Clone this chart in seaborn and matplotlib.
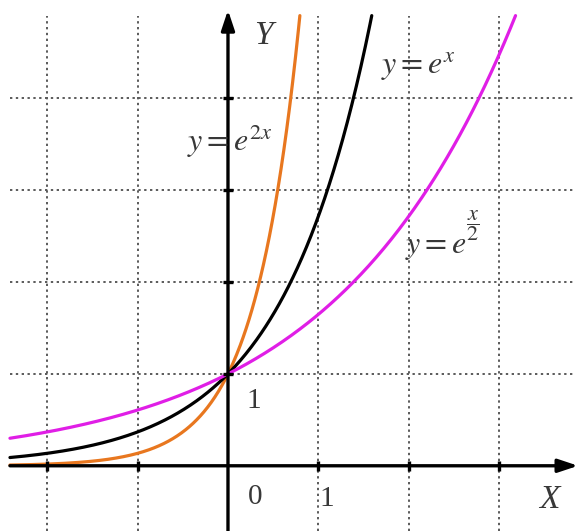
import numpy as np
import pandas as pd
import matplotlib
matplotlib.use("Agg")
import matplotlib.pyplot as plt
import seaborn as sns

# Exponential curves y = e^(k x)
rates = [2.0, 1.0, 0.5]
colors = ["#e8771f", "#000000", "#e01ee6"]
labels = [r"$y=e^{2x}$", r"$y=e^{x}$", r"$y=e$"]
label_pos = [(0.02, 3.43), (2.10, 4.27), (2.30, 2.32)]
# exponent of the last label, set as a raised fraction
frac_label = r"$\dfrac{x}{2}$"
frac_pos = (2.70, 2.62)

x_start = -2.41
y_top = 4.9

x_grid = [-2, -1, 1, 2, 3]
y_grid = [1, 2, 3, 4]

sns.set_theme(style="white")
plt.rcParams["mathtext.fontset"] = "stix"
plt.rcParams["font.family"] = ["Liberation Serif", "DejaVu Serif"]

fig = plt.figure(figsize=(5.79, 5.31), dpi=100)
ax = fig.add_axes([0, 0, 1, 1])
ax.set_xlim(-2.52, 3.88)
ax.set_ylim(-0.71, 5.07)
for s in ax.spines.values():
    s.set_visible(False)
ax.set_xticks([])
ax.set_yticks([])

# dotted grid
grid_kw = dict(color="#5a5a5a", lw=1.4, linestyles=(0, (1.2, 1.8)), zorder=1)
ax.hlines(y_grid, -2.41, 3.83, **grid_kw)
ax.vlines(x_grid, -0.71, 4.9, **grid_kw)

# curves
for k, c in zip(rates, colors):
    xs = np.linspace(x_start, np.log(y_top) / k, 400)
    df = pd.DataFrame({"x": xs, "y": np.exp(k * xs)})
    sns.lineplot(data=df, x="x", y="y", ax=ax, color=c, lw=2.3, zorder=3,
                 sort=False, estimator=None)

# axes with arrows
arrow_kw = dict(arrowstyle="-|>,head_length=0.6,head_width=0.2",
                lw=2.4, color="black", mutation_scale=20, shrinkA=0, shrinkB=0)
ax.annotate("", xy=(3.87, 0), xytext=(-2.41, 0), arrowprops=arrow_kw, zorder=4)
ax.annotate("", xy=(0, 4.96), xytext=(0, -0.71), arrowprops=arrow_kw, zorder=4)

# tick marks on the axes
ax.plot(x_grid, [0] * len(x_grid), ls="none", marker="|", ms=7, mew=2.4,
        color="black", zorder=4)
ax.plot([0] * len(y_grid), y_grid, ls="none", marker="_", ms=7, mew=2.4,
        color="black", zorder=4)

txt = "#383838"
ax.text(0.39, 4.68, "Y", fontsize=24, style="italic", color=txt,
        ha="center", va="center")
ax.text(3.55, -0.37, "X", fontsize=24, style="italic", color=txt,
        ha="center", va="center")
ax.text(0.30, -0.345, "0", fontsize=21, color=txt, ha="center", va="center")
ax.text(0.28, 0.71, "1", fontsize=21, color=txt, ha="center", va="center")
ax.text(1.09, -0.36, "1", fontsize=21, color=txt, ha="center", va="center")

for lab, (lx, ly) in zip(labels, label_pos):
    ax.text(lx, ly, lab, fontsize=23, color=txt, ha="center", va="baseline",
            zorder=5)
ax.text(frac_pos[0], frac_pos[1], frac_label, fontsize=16, color=txt,
        ha="center", va="center", zorder=5)

fig.savefig("out.png", dpi=100, facecolor="white")
